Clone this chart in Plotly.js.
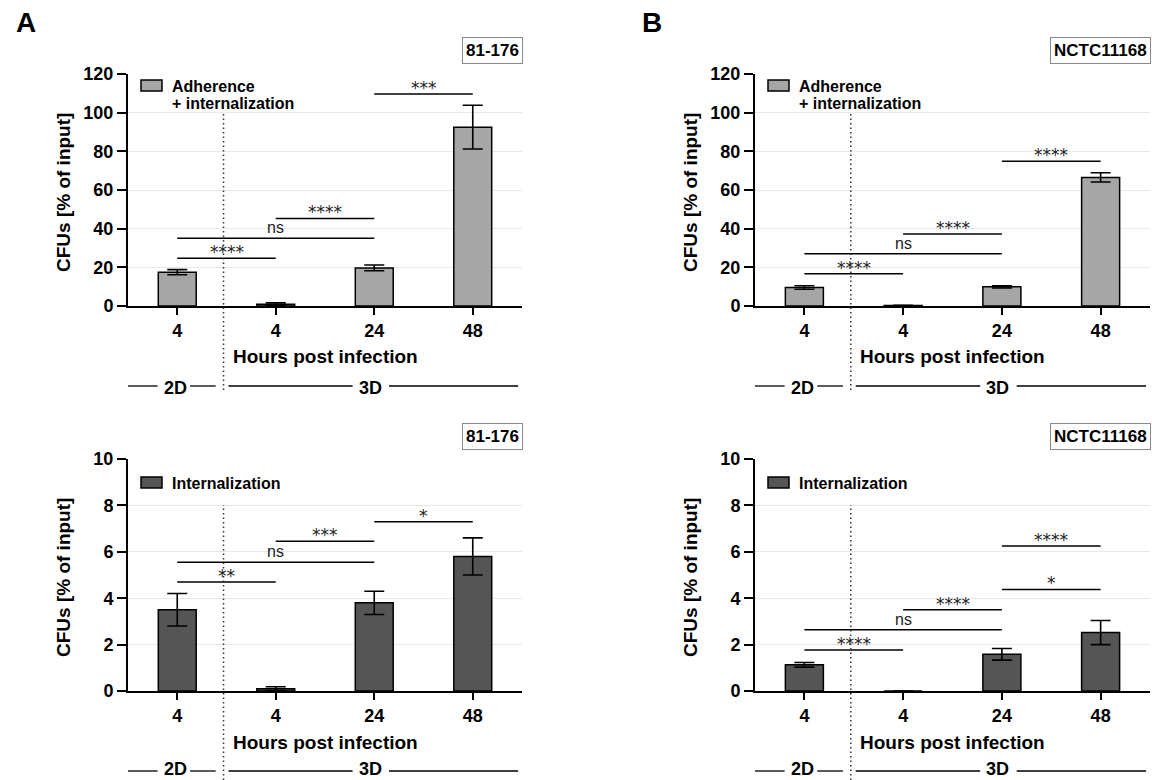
<!DOCTYPE html>
<html><head><meta charset="utf-8">
<script src="https://cdn.plot.ly/plotly-3.0.1.min.js"></script>
<style>html,body{margin:0;padding:0;background:#fff}#chart{width:1152px;height:780px}</style>
</head><body><div id="chart"></div>
<script>
// ---- data ----
const tickLabels = ['4', '4', '24', '48'];
const positions = [0, 1, 2, 3];
const adhA = [17.5, 0.9, 19.7, 92.5];
const adhAErr = [1.3, 0.7, 1.5, 11.3];
const intA = [3.5, 0.1, 3.8, 5.8];
const intAErr = [0.7, 0.08, 0.5, 0.8];
const adhB = [9.6, 0.3, 9.9, 66.5];
const adhBErr = [0.9, 0.1, 0.6, 2.4];
const intB = [1.13, 0.0, 1.58, 2.52];
const intBErr = [0.1, 0.0, 0.25, 0.52];
const strainA = '81-176';
const strainB = 'NCTC11168';
// [from, to, y, label]
const sigAdhA = [[0, 1, 24.7, '****'], [0, 2, 35, 'ns'], [1, 2, 45.3, '****'], [2, 3, 109.7, '***']];
const sigIntA = [[0, 1, 4.7, '**'], [0, 2, 5.55, 'ns'], [1, 2, 6.45, '***'], [2, 3, 7.3, '*']];
const sigAdhB = [[0, 1, 16.7, '****'], [0, 2, 27, 'ns'], [1, 2, 37.3, '****'], [2, 3, 74.9, '****']];
const sigIntB = [[0, 1, 1.77, '****'], [0, 2, 2.64, 'ns'], [1, 2, 3.5, '****'], [2, 3, 4.38, '*'], [2, 3, 6.25, '****']];
const legendAdh = ['Adherence', '+ internalization'];
const legendInt = ['Internalization'];
const xTitle = 'Hours post infection';
const yTitle = 'CFUs [% of input]';
const groupLabels = ['2D', '3D'];

// ---- layout helpers ----
const W = 1152, H = 780;
const px = v => v / W;
const py = v => 1 - v / H;
const FONT = 'Liberation Sans, Arial, sans-serif';

const cols = [[128, 522], [755, 1150]];
const rows = [[74, 306], [459, 691]];

const panels = [
  {c: 0, r: 0, vals: adhA, err: adhAErr, color: '#a6a6a6', yMax: 120, dtick: 20, sig: sigAdhA, strain: strainA, legend: legendAdh, letter: 'A'},
  {c: 1, r: 0, vals: adhB, err: adhBErr, color: '#a6a6a6', yMax: 120, dtick: 20, sig: sigAdhB, strain: strainB, legend: legendAdh, letter: 'B'},
  {c: 0, r: 1, vals: intA, err: intAErr, color: '#555555', yMax: 10, dtick: 2, sig: sigIntA, strain: strainA, legend: legendInt},
  {c: 1, r: 1, vals: intB, err: intBErr, color: '#555555', yMax: 10, dtick: 2, sig: sigIntB, strain: strainB, legend: legendInt}
];

const data = [];
const layout = {
  width: W, height: H, margin: {l: 0, r: 0, t: 0, b: 0},
  paper_bgcolor: '#fff', plot_bgcolor: '#fff', showlegend: false,
  font: {family: FONT, color: '#000'},
  shapes: [], annotations: []
};

panels.forEach((p, i) => {
  const n = i === 0 ? '' : String(i + 1);
  const xid = 'x' + n, yid = 'y' + n;
  const [L, R] = cols[p.c];
  const [T, B] = rows[p.r];
  data.push({
    type: 'bar', x: positions, y: p.vals, xaxis: xid, yaxis: yid, width: 0.385,
    marker: {color: p.color, line: {color: '#000', width: 1.5}},
    error_y: {type: 'data', array: p.err, visible: true, color: '#000', thickness: 1.6, width: 10},
    hoverinfo: 'skip'
  });
  layout['xaxis' + n] = {
    domain: [px(L), px(R)], anchor: yid, range: [-0.5, 3.5],
    tickvals: positions, ticktext: tickLabels,
    showline: true, linewidth: 2, linecolor: '#000',
    ticks: 'outside', ticklen: 7, tickwidth: 2, tickcolor: '#000',
    showgrid: false, zeroline: false, fixedrange: true,
    tickfont: {family: FONT, size: 18, weight: 'bold', color: '#000'}
  };
  layout['yaxis' + n] = {
    domain: [py(B), py(T)], anchor: xid, range: [0, p.yMax], tick0: 0, dtick: p.dtick,
    showline: true, linewidth: 2, linecolor: '#000',
    ticks: 'outside', ticklen: 9, tickwidth: 2, tickcolor: '#000',
    showgrid: true, gridcolor: '#e8e8e8', gridwidth: 1, zeroline: false, fixedrange: true,
    tickfont: {family: FONT, size: 18, weight: 'bold', color: '#000'}
  };
  // significance bars
  p.sig.forEach(s => {
    layout.shapes.push({type: 'line', xref: xid, yref: yid, x0: s[0], x1: s[1], y0: s[2], y1: s[2],
      line: {color: '#000', width: 1.5}});
    const isStar = s[3].indexOf('*') >= 0;
    layout.annotations.push({xref: xid, yref: yid, x: (s[0] + s[1]) / 2, y: s[2], text: s[3],
      showarrow: false, yanchor: 'bottom', yshift: isStar ? -6 : 0,
      font: isStar ? {family: 'DejaVu Sans', size: 17, color: '#222'} : {family: FONT, size: 16, color: '#222'}});
  });
  // dotted 2D/3D separator
  const dotTop = p.r === 0 ? 113 : 505;
  const dotBot = p.r === 0 ? 390 : 780;
  layout.shapes.push({type: 'line', xref: xid, yref: 'paper', x0: 0.47, x1: 0.47, y0: py(dotBot), y1: py(dotTop),
    line: {color: '#333', width: 1.5, dash: '1.5px,3px'}});
  // legend patch & text
  const pt = p.r === 0 ? 6 : 18;
  layout.shapes.push({type: 'rect', xref: 'paper', yref: 'paper', x0: px(L + 13), x1: px(L + 34), y0: py(T + pt), y1: py(T + pt + 11),
    fillcolor: p.color, line: {color: '#000', width: 1.5}});
  p.legend.forEach((t, k) => {
    layout.annotations.push({xref: 'paper', yref: 'paper', x: px(L + 42), y: py(T + pt + 6 + 18 * k), text: t,
      showarrow: false, xanchor: 'left', yanchor: 'middle', font: {family: FONT, size: 16, weight: 'bold', color: '#000'}});
  });
  // strain box
  layout.annotations.push({xref: 'paper', yref: 'paper', x: px(R + 1), y: py(T - 23), text: p.strain,
    showarrow: false, xanchor: 'right', yanchor: 'middle', bordercolor: '#888', borderwidth: 1, borderpad: 3,
    font: {family: FONT, size: 17, weight: 'bold', color: '#000'}});
  // axis titles
  layout.annotations.push({xref: 'paper', yref: 'paper', x: px(L - 65), y: py((T + B) / 2 + 3), text: yTitle,
    textangle: -90, showarrow: false, xanchor: 'center', yanchor: 'middle',
    font: {family: FONT, size: 19, weight: 'bold', color: '#000'}});
  layout.annotations.push({xref: 'paper', yref: 'paper', x: px((L + R) / 2), y: py(B + 51), text: xTitle,
    showarrow: false, xanchor: 'center', yanchor: 'middle',
    font: {family: FONT, size: 19, weight: 'bold', color: '#000'}});
  // 2D / 3D group labels
  const gLine = p.r === 0 ? 386 : 771;
  const gy = py(gLine);
  const gText = p.r === 0 ? gLine + 13 : 780;
  [[-0.5, -0.2], [0.13, 0.39], [0.52, 1.78], [2.15, 3.46]].forEach(seg => {
    layout.shapes.push({type: 'line', xref: xid, yref: 'paper', x0: seg[0], x1: seg[1], y0: gy, y1: gy,
      line: {color: '#000', width: 1.3}});
  });
  [[-0.02, groupLabels[0]], [1.96, groupLabels[1]]].forEach(g => {
    layout.annotations.push({xref: xid, yref: 'paper', x: g[0], y: py(gText), text: g[1], showarrow: false,
      xanchor: 'center', yanchor: 'bottom', borderpad: 0,
      font: {family: FONT, size: 18, weight: 'bold', color: '#000'}});
  });
  // panel letter
  if (p.letter) {
    layout.annotations.push({xref: 'paper', yref: 'paper', x: px(p.c === 0 ? 26 : 652), y: py(22), text: p.letter,
      showarrow: false, xanchor: 'center', yanchor: 'middle', font: {family: FONT, size: 28, weight: 'bold', color: '#000'}});
  }
});

Plotly.newPlot('chart', data, layout, {staticPlot: true, displayModeBar: false});
</script>
</body></html>
